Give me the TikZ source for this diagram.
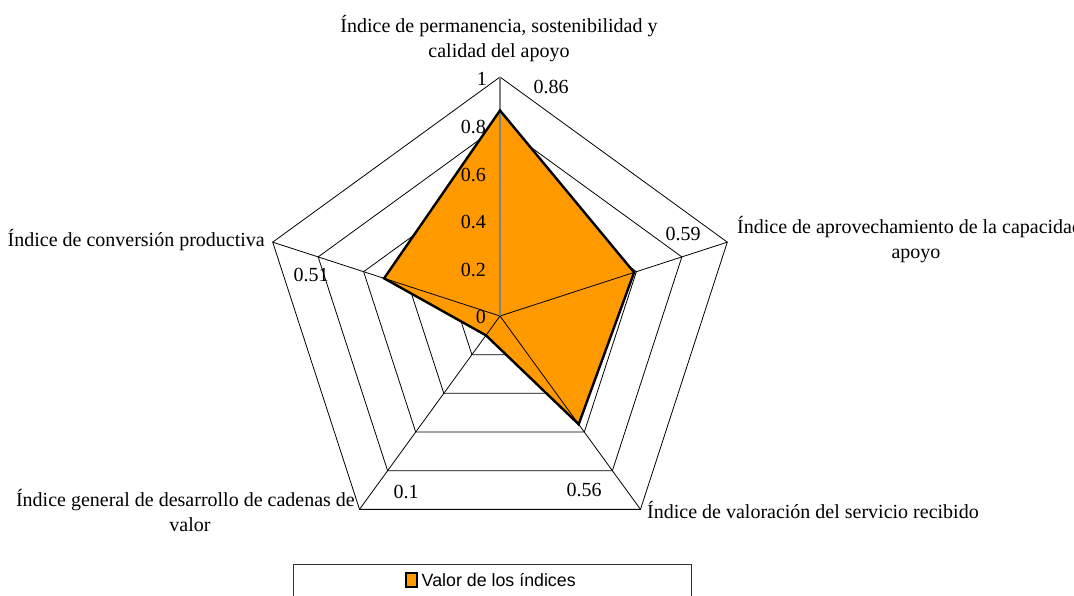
\documentclass[tikz,border=0pt]{standalone}
\usepackage{fontspec}
\setmainfont{Liberation Serif}
\newfontfamily\legendfont{Liberation Sans}
\usetikzlibrary{calc}
\definecolor{dataorange}{HTML}{FF9900}
\definecolor{axisgray}{HTML}{808080}
\begin{document}
\begin{tikzpicture}[x=1pt,y=-1pt,
  ring/.style={draw=black,line width=0.8pt},
  spoke/.style={draw=black,line width=0.8pt},
  valaxis/.style={draw=axisgray,line width=1.2pt},
  datafill/.style={fill=dataorange},
  dataline/.style={draw=black,line width=2.4pt,line join=miter},
  ticklbl/.style={font=\fontsize{20}{24}\selectfont,inner sep=0pt,anchor=east},
  vallbl/.style={font=\fontsize{20}{24}\selectfont,inner sep=0pt},
  catlbl/.style={font=\fontsize{20}{24}\selectfont,inner sep=0pt,anchor=base},
  legendbox/.style={draw=black!80,line width=0.8pt},
  swatch/.style={fill=dataorange,draw=black,line width=1.4pt}]
\useasboundingbox (0,0) rectangle (1074,595);
\coordinate (c) at (500,316);
% axis vertices (angles clockwise because y points down)
\foreach \a/\n in {-90/1,-18/2,54/3,126/4,198/5}
  \coordinate (v\n) at ($(c)+(\a:239)$);
% rings
\foreach \v in {0.2,0.4,0.6,0.8,1}
  \draw[ring] ($(c)+(-90:239*\v)$) -- ($(c)+(-18:239*\v)$) -- ($(c)+(54:239*\v)$)
     -- ($(c)+(126:239*\v)$) -- ($(c)+(198:239*\v)$) -- cycle;
% data points
\coordinate (d1) at ($(c)+(-90:239*0.86)$);
\coordinate (d2) at ($(c)+(-18:239*0.59)$);
\coordinate (d3) at ($(c)+(54:239*0.56)$);
\coordinate (d4) at ($(c)+(126:239*0.10)$);
\coordinate (d5) at ($(c)+(198:239*0.51)$);
\fill[datafill] (d1) -- (d2) -- (d3) -- (d4) -- (d5) -- cycle;
% spokes
\foreach \n in {2,3,4,5} \draw[spoke] (c) -- (v\n);
\draw[valaxis] (c) -- (v1);
\draw[dataline] (d1) -- (d2) -- (d3) -- (d4) -- (d5) -- cycle;
% value axis labels
\node[ticklbl] (t0) at (486,317) {0};
\node[ticklbl] (t2) at (486,270) {0.2};
\node[ticklbl] (t4) at (486,222) {0.4};
\node[ticklbl] (t6) at (486,175) {0.6};
\node[ticklbl] (t8) at (486,127) {0.8};
\node[ticklbl] (t10) at (487,79) {1};
% data labels
\node[vallbl] (l1) at (551,87) {0.86};
\node[vallbl] (l2) at (683,234) {0.59};
\node[vallbl] (l3) at (584,490) {0.56};
\node[vallbl] (l4) at (406,492) {0.1};
\node[vallbl] (l5) at (311,275) {0.51};
% category labels
\node[catlbl] (c1a) at (499,32) {Índice de permanencia, sostenibilidad y};
\node[catlbl] (c1b) at (499,57) {calidad del apoyo};
\begin{scope}
\clip (0,0) rectangle (1074,595);
\node[catlbl,anchor=base west] (c2a) at (737,233) {Índice de aprovechamiento de la capacidad de};
\end{scope}
\node[catlbl] (c2b) at (916,258) {apoyo};
\node[catlbl,anchor=base east] (c5) at (265,246) {Índice de conversión productiva};
\node[catlbl,anchor=base east] (c4a) at (355,506) {Índice general de desarrollo de cadenas de};
\node[catlbl] (c4b) at (190,531) {valor};
\node[catlbl,anchor=base west] (c3) at (647,518) {Índice de valoración del servicio recibido};
% legend
\draw[legendbox] (293,564) -- (293,600) (293,564) -- (691,564) -- (691,600);
\draw[swatch] (406,573) rectangle (417,587);
\node[font=\legendfont\fontsize{17.8}{20}\selectfont,inner sep=0pt,anchor=west] (leg) at (421.5,580) {Valor de los índices};
\end{tikzpicture}
\end{document}
